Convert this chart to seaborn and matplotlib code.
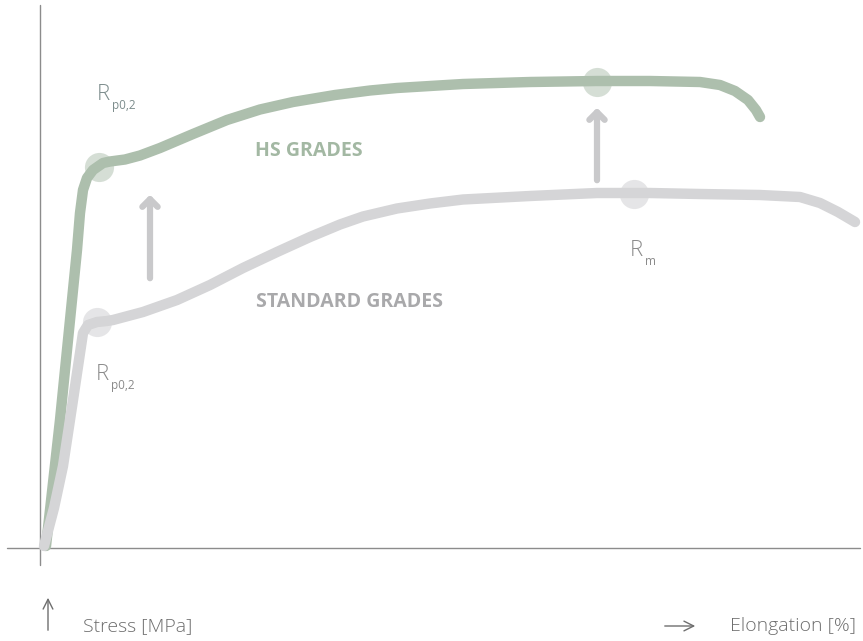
import pandas as pd
import seaborn as sns
import matplotlib.pyplot as plt

# curve points (origin at the axis cross)
hs_elong = [6, 20, 28, 32, 37, 40, 43, 47, 53, 63, 70, 85, 100, 120, 153, 187, 220, 253, 295,
            330, 357, 423, 490, 557, 610, 660, 680, 695, 708, 716, 720]
hs_stress = [2, 128, 208, 248, 298, 335, 358, 370, 378, 385, 386.5, 388.5, 392.5, 400, 414, 428, 438.5, 446, 453,
             457.5, 460, 464, 466, 467, 467, 466, 463, 457, 448, 438, 431]
std_elong = [4, 14, 23, 33, 43, 48, 57, 67, 73, 103, 137, 170, 203, 237, 270, 300, 323, 357, 390,
             423, 490, 557, 610, 660, 720, 760, 780, 798, 815]
std_stress = [2, 40, 82, 148, 215, 223, 226, 227, 228, 236, 248, 263, 280, 296, 311, 323.5, 331.5, 339.5, 344.5,
              348.5, 352, 355, 355, 354, 353, 351, 345, 336, 326]

# yield / tensile points
hs_marks_x = [59, 557]
hs_marks_y = [381, 466]
std_marks_x = [57, 594]
std_marks_y = [226, 354]

green = '#adbfad'
grey = '#d5d5d7'
arrow_grey = '#c9c9cb'

df = pd.concat([
    pd.DataFrame({'Elongation': hs_elong, 'Stress': hs_stress, 'Grade': 'HS'}),
    pd.DataFrame({'Elongation': std_elong, 'Stress': std_stress, 'Grade': 'Standard'}),
])

sns.set_style('white')
plt.rcParams['font.family'] = ['Open Sans', 'DejaVu Sans']

fig = plt.figure(figsize=(8.63, 6.41), dpi=100)
ax = fig.add_axes([0, 0, 1, 1])

sns.lineplot(data=df, x='Elongation', y='Stress', hue='Grade', sort=False,
             palette={'HS': green, 'Standard': grey}, linewidth=7.5,
             legend=False, ax=ax, solid_capstyle='round', solid_joinstyle='round', zorder=3)

ax.plot(hs_marks_x, hs_marks_y, 'o', ms=21, color=green, alpha=0.5, mec='none', zorder=4)
ax.plot(std_marks_x, std_marks_y, 'o', ms=21, color=grey, alpha=0.6, mec='none', zorder=4)

# axis lines
ax.plot([0, 0], [-17, 543], color='#8c8c8c', lw=1, zorder=2)
ax.plot([-33, 820], [0, 0], color='#8c8c8c', lw=1, zorder=2)

# arrows between grades
for x, y0, y1 in [(110, 267, 356), (557, 365, 443)]:
    ax.annotate('', xy=(x, y1), xytext=(x, y0),
                arrowprops=dict(arrowstyle='->,head_length=0.55,head_width=0.55',
                                lw=4.5, color=arrow_grey))

# labels
ax.text(57, 443, 'R', fontsize=16, color='#7c8c8c', fontweight='light', va='bottom')
ax.text(72, 436, 'p0,2', fontsize=8.5, color='#7c8c8c', va='bottom')
ax.text(56, 163, 'R', fontsize=16, color='#8a8a8a', fontweight='light', va='bottom')
ax.text(71, 156, 'p0,2', fontsize=8.5, color='#8a8a8a', va='bottom')
ax.text(590, 287, 'R', fontsize=16, color='#8a8a8a', fontweight='light', va='bottom')
ax.text(605, 280, 'm', fontsize=8.5, color='#8a8a8a', va='bottom')

ax.text(215, 397, 'HS GRADES', fontsize=14, fontweight='bold', color='#a3b8a3', va='center')
ax.text(216, 246, 'STANDARD GRADES', fontsize=14, fontweight='bold', color='#a9a9ab', va='center')

# axis titles
ax.annotate('', xy=(8, -47), xytext=(8, -85),
            arrowprops=dict(arrowstyle='->,head_length=0.7,head_width=0.35', lw=1, color='#6e6e6e'))
ax.text(43, -78, 'Stress [MPa]', fontsize=14, color='#6e6e6e', va='center', fontweight='light')
ax.annotate('', xy=(658, -78), xytext=(622, -78),
            arrowprops=dict(arrowstyle='->,head_length=0.7,head_width=0.35', lw=1, color='#6e6e6e'))
ax.text(690, -78, 'Elongation [%]', fontsize=14, color='#6e6e6e', va='center', fontweight='light')

ax.set_xlim(-40, 823)
ax.set_ylim(-93, 548)
ax.axis('off')

fig.savefig('out.png', dpi=100)
